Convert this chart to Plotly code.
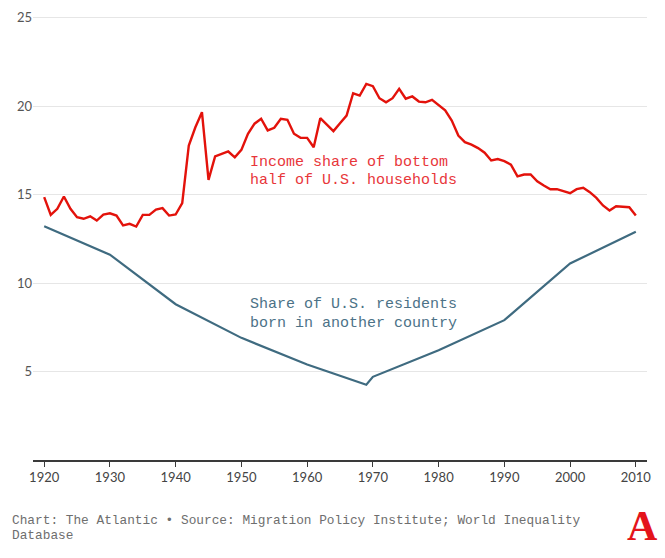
import plotly.graph_objects as go

# Income share of bottom half of U.S. households (%), annual 1920-2010
income_years = list(range(1920, 2011))
income_share = [
    14.85, 13.85, 14.19, 14.89, 14.19, 13.72, 13.63, 13.77, 13.53, 13.87,  # 1920s
    13.94, 13.81, 13.25, 13.34, 13.19, 13.85, 13.85, 14.15, 14.23, 13.81,  # 1930s
    13.87, 14.51, 17.77, 18.80, 19.65, 15.83, 17.15, 17.30, 17.43, 17.10,  # 1940s
    17.52, 18.43, 19.00, 19.28, 18.62, 18.77, 19.28, 19.22, 18.43, 18.20,  # 1950s
    18.20, 17.67, 19.31, 18.95, 18.58, 19.03, 19.46, 20.72, 20.59, 21.25,  # 1960s
    21.12, 20.44, 20.21, 20.44, 20.97, 20.41, 20.54, 20.25, 20.21, 20.35,  # 1970s
    20.03, 19.75, 19.18, 18.33, 17.96, 17.82, 17.62, 17.36, 16.92, 17.00,  # 1980s
    16.88, 16.69, 16.02, 16.13, 16.13, 15.75, 15.51, 15.30, 15.30, 15.19,  # 1990s
    15.07, 15.30, 15.38, 15.13, 14.81, 14.38, 14.10, 14.34, 14.32, 14.28,  # 2000s
    13.81,
]

# Share of U.S. residents born in another country (%)
foreign_years = [1920, 1930, 1940, 1950, 1960, 1969, 1970, 1980, 1990, 2000, 2010]
foreign_share = [13.2, 11.6, 8.8, 6.9, 5.4, 4.25, 4.7, 6.2, 7.9, 11.1, 12.9]

x_ticks = [1920, 1930, 1940, 1950, 1960, 1970, 1980, 1990, 2000, 2010]
y_ticks = [5, 10, 15, 20, 25]

RED = "#e3120b"
BLUE = "#3f6b80"

# layout geometry (pixels)
W, H = 665, 558
ML, MR, MT, MB = 33, 18, 11, 98
PW, PH = W - ML - MR, H - MT - MB


def px(xp):
    return (xp - ML) / PW


def py(yp):
    return (H - MB - yp) / PH


fig = go.Figure()
fig.add_trace(go.Scatter(x=foreign_years, y=foreign_share, mode="lines",
                         line=dict(color=BLUE, width=2.2), hoverinfo="skip"))
fig.add_trace(go.Scatter(x=income_years, y=income_share, mode="lines",
                         line=dict(color=RED, width=2.4), hoverinfo="skip"))

mono = "Liberation Mono, Courier New, monospace"
ann = []
for text, yp, col in [
    ("Income share of bottom", 162, "#e8363a"),
    ("half of U.S. households", 180.5, "#e8363a"),
    ("Share of U.S. residents", 304, "#4c7287"),
    ("born in another country", 323, "#4c7287"),
]:
    ann.append(dict(text=text, x=px(248), y=py(yp), xref="paper", yref="paper",
                    xanchor="left", yanchor="middle", showarrow=False,
                    font=dict(family=mono, size=15, color=col)))
for text, yp in [
    ("Chart: The Atlantic • Source: Migration Policy Institute; World Inequality", 520),
    ("Database", 535),
]:
    ann.append(dict(text=text, x=px(10), y=py(yp), xref="paper", yref="paper",
                    xanchor="left", yanchor="middle", showarrow=False,
                    font=dict(family=mono, size=12.8, color="#6e6e6e")))
ann.append(dict(text="A", x=px(642), y=py(526), xref="paper", yref="paper",
                xanchor="center", yanchor="middle", showarrow=False,
                font=dict(family="Liberation Serif, serif", weight="bold",
                          size=42, color="#e4141b")))

fig.update_layout(
    width=W, height=H,
    margin=dict(l=ML, r=MR, t=MT, b=MB, autoexpand=False),
    plot_bgcolor="white", paper_bgcolor="white",
    showlegend=False,
    annotations=ann,
    xaxis=dict(range=[1918.3, 2011.7], tickvals=x_ticks,
               ticktext=[str(t) for t in x_ticks], automargin=False,
               showgrid=False, zeroline=False,
               showline=True, linecolor="#3a3a3a", linewidth=1.5,
               ticks="outside", ticklen=5, tickwidth=1, tickcolor="#3a3a3a",
               tickfont=dict(family="Lato, Open Sans, sans-serif", size=13, color="#444444")),
    yaxis=dict(range=[0, PH / 17.7], tickvals=y_ticks,
               ticktext=[str(t) for t in y_ticks], automargin=False,
               showgrid=True, gridcolor="#e6e6e6", gridwidth=1,
               zeroline=False, showline=False, ticks="",
               tickfont=dict(family="Lato, Open Sans, sans-serif", size=13, color="#555555")),
)

fig.write_html("out.html", config={"displayModeBar": False},
               post_script="document.body.style.margin='0';document.body.style.overflow='hidden';")
